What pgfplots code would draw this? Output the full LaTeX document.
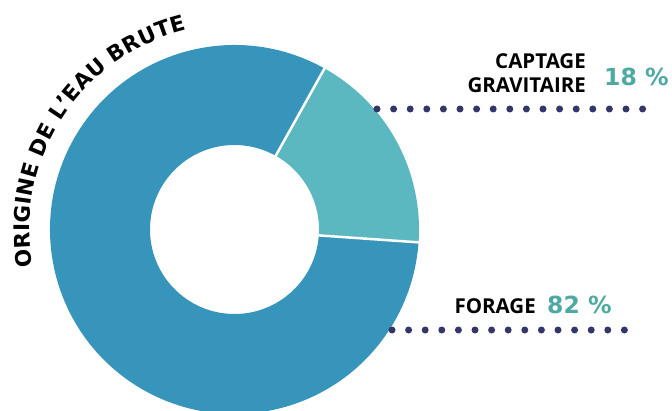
\documentclass[border=0pt]{standalone}
\usepackage{pgfplots}
\pgfplotsset{compat=1.18}
\usepackage{pgfplotstable}
\usepackage{fontspec}
\setmainfont{DejaVu Sans}
\newfontfamily\labfont{Open Sans}
\usetikzlibrary{decorations.text}
\definecolor{cblue}{HTML}{3794BA}
\definecolor{cteal}{HTML}{5BB7C0}
\definecolor{cpct}{HTML}{4DA9A2}
\definecolor{cdot}{HTML}{34366A}

\pgfplotstableread{
label value
Forage 82
Captage 18
}\datatable

\begin{document}
\begin{tikzpicture}
\pgfplotstablegetelem{0}{value}\of\datatable \let\vF\pgfplotsretval
\pgfplotstablegetelem{1}{value}\of\datatable \let\vC\pgfplotsretval
\pgfmathsetmacro\aS{-4}
\pgfmathsetmacro\aM{\aS+3.6*\vC}
\pgfmathsetmacro\aE{\aM+3.6*\vF}
\def\Ro{184.5pt}
\def\Ri{84.5pt}
\begin{axis}[hide axis, scale only axis, width=672pt, height=410pt,
  xmin=0, xmax=672, ymin=0, ymax=410, clip=true]
\begin{scope}[shift={(axis cs:234.5,180.5)}]
  \fill[cblue] (\aM:\Ro) arc[start angle=\aM, end angle=\aE, radius=\Ro]
     -- (\aE:\Ri) arc[start angle=\aE, end angle=\aM, radius=\Ri] -- cycle;
  \fill[cteal] (\aS:\Ro) arc[start angle=\aS, end angle=\aM, radius=\Ro]
     -- (\aM:\Ri) arc[start angle=\aM, end angle=\aS, radius=\Ri] -- cycle;
  \draw[white, line width=2.5pt] (\aS:82pt) -- (\aS:187pt);
  \draw[white, line width=2.5pt] (\aM:82pt) -- (\aM:187pt);
  \path[decorate, decoration={text along path,
      text={|\bfseries\fontsize{21.5}{21.5}\selectfont|ORIGINE DE L’EAU BRUTE},
      text align={fit to path}}]
    (190.5:205pt) arc[start angle=190.5, end angle=103.5, radius=205pt];
\end{scope}
\draw[cdot, line width=7pt, line cap=round, dash pattern=on 0pt off 16.6pt]
  (axis cs:377,301) -- (axis cs:657,301);
\draw[cdot, line width=7pt, line cap=round, dash pattern=on 0pt off 16.6pt]
  (axis cs:392,80) -- (axis cs:626,80);
\node[anchor=base east, inner sep=0pt, font=\labfont\bfseries\fontsize{20.5}{20.5}\selectfont] at (axis cs:586,341) {CAPTAGE};
\node[anchor=base east, inner sep=0pt, font=\labfont\bfseries\fontsize{20.5}{20.5}\selectfont] at (axis cs:586,317) {GRAVITAIRE};
\node[anchor=base west, inner sep=0pt, text=cpct, font=\bfseries\fontsize{23.5}{23.5}\selectfont] at (axis cs:604,324) {18 \%};
\node[anchor=base east, inner sep=0pt, font=\labfont\bfseries\fontsize{20.5}{20.5}\selectfont] at (axis cs:536,97) {FORAGE};
\node[anchor=base west, inner sep=0pt, text=cpct, font=\bfseries\fontsize{23.5}{23.5}\selectfont] at (axis cs:547,97) {82 \%};
\end{axis}
\pgfresetboundingbox
\path[use as bounding box] (current axis.south west) rectangle (current axis.north east);
\end{tikzpicture}
\end{document}
